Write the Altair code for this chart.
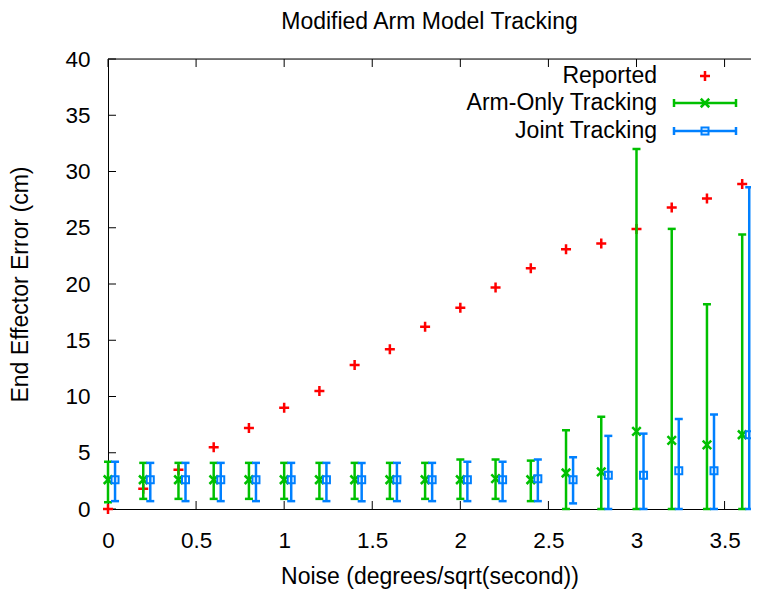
import altair as alt
import pandas as pd

# ---------------- data ----------------
noise = [0.0, 0.2, 0.4, 0.6, 0.8, 1.0, 1.2, 1.4, 1.6, 1.8, 2.0, 2.2, 2.4, 2.6, 2.8, 3.0, 3.2, 3.4, 3.6]
noise_joint = [0.04, 0.24, 0.44, 0.64, 0.84, 1.04, 1.24, 1.44, 1.64, 1.84, 2.04, 2.24, 2.44, 2.64, 2.84, 3.04, 3.24, 3.44, 3.64]

reported = [0.0, 1.8, 3.5, 5.5, 7.2, 9.0, 10.5, 12.8, 14.2, 16.2, 17.9, 19.7, 21.4, 23.1, 23.6, 24.9, 26.8, 27.6, 28.9]

arm_mean = [2.6, 2.6, 2.6, 2.6, 2.6, 2.6, 2.6, 2.6, 2.6, 2.6, 2.6, 2.7, 2.6, 3.2, 3.3, 6.9, 6.1, 5.7, 6.6]
arm_low = [0.6, 0.9, 0.9, 0.9, 0.9, 0.9, 0.9, 0.9, 0.9, 0.9, 0.9, 0.9, 0.7, 0.0, 0.0, 0.0, 0.0, 0.0, 0.0]
arm_high = [4.2, 4.1, 4.1, 4.1, 4.1, 4.1, 4.1, 4.1, 4.1, 4.1, 4.4, 4.4, 4.3, 7.0, 8.2, 32.0, 24.9, 18.2, 24.4]

joint_mean = [2.6, 2.6, 2.6, 2.6, 2.6, 2.6, 2.6, 2.6, 2.6, 2.6, 2.6, 2.6, 2.7, 2.6, 3.0, 3.0, 3.4, 3.4, 6.6]
joint_low = [0.7, 0.7, 0.7, 0.7, 0.7, 0.7, 0.7, 0.7, 0.7, 0.7, 0.7, 0.7, 0.7, 0.5, 0.0, 0.0, 0.0, 0.0, 0.0]
joint_high = [4.2, 4.1, 4.1, 4.1, 4.1, 4.1, 4.1, 4.1, 4.1, 4.1, 4.2, 4.2, 4.4, 4.6, 6.5, 6.7, 8.0, 8.4, 28.6]

x_ticks = [0, 0.5, 1, 1.5, 2, 2.5, 3, 3.5]
y_ticks = [0, 5, 10, 15, 20, 25, 30, 35, 40]

legend_labels = ["Reported", "Arm-Only Tracking", "Joint Tracking"]

title_text = "Modified Arm Model Tracking"
x_title = "Noise (degrees/sqrt(second))"
y_title = "End Effector Error (cm)"

# ---------------- style ----------------
RED = "#ff0000"
GREEN = "#00c000"
BLUE = "#0080ff"
FONT = "Liberation Sans"
TXT = 23
TICK = 22.5
W, H = 643, 450
XMAX = 3.65

PLUS = "M-1,0L1,0M0,-1L0,1"
CROSS = "M-1,-1L1,1M-1,1L1,-1"

rep_df = pd.DataFrame({"x": noise, "y": reported})
arm_df = pd.DataFrame({"x": noise, "y": arm_mean, "lo": arm_low, "hi": arm_high})
joint_df = pd.DataFrame({"x": noise_joint, "y": joint_mean, "lo": joint_low, "hi": joint_high})
xt_df = pd.DataFrame({"t": x_ticks})
yt_df = pd.DataFrame({"t": y_ticks})
one = pd.DataFrame({"k": [0]})

xscale = alt.Scale(domain=[0, XMAX], nice=False, zero=False)
yscale = alt.Scale(domain=[0, 40], nice=False, zero=False)

xaxis = alt.Axis(title=x_title, values=x_ticks, format="~g", ticks=False, grid=False,
                 domainColor="black", domainWidth=1, labelFontSize=TICK, labelFont=FONT,
                 labelColor="black", labelPadding=20, titleFontSize=TXT, titleFont=FONT,
                 titleFontWeight="normal", titleColor="black", titlePadding=14,
                 labelFlush=False)
yaxis = alt.Axis(title=y_title, values=y_ticks, ticks=False, grid=False,
                 domainColor="black", domainWidth=1, labelFontSize=TICK, labelFont=FONT,
                 labelColor="black", labelPadding=18, titleFontSize=TXT, titleFont=FONT,
                 titleFontWeight="normal", titleColor="black", titlePadding=32,
                 labelFlush=False)


def X(field):
    return alt.X(field, type="quantitative", scale=xscale, axis=xaxis)


def Y(field):
    return alt.Y(field, type="quantitative", scale=yscale, axis=yaxis)


# top border and inward ticks
top_border = alt.Chart(one).mark_rule(color="black", strokeWidth=1).encode(
    x=alt.value(0), x2=alt.value(W), y=alt.value(0))
bottom_ticks = alt.Chart(xt_df).mark_rule(color="black", strokeWidth=1).encode(
    x=X("t"), y=alt.value(H), y2=alt.value(H - 8))
top_ticks = alt.Chart(xt_df).mark_rule(color="black", strokeWidth=1).encode(
    x=X("t"), y=alt.value(0), y2=alt.value(8))
left_ticks = alt.Chart(yt_df).mark_rule(color="black", strokeWidth=1).encode(
    y=Y("t"), x=alt.value(0), x2=alt.value(8))

rep = alt.Chart(rep_df).mark_point(shape=PLUS, filled=False, color=RED, size=100,
                                   strokeWidth=2.5, opacity=1).encode(x=X("x"), y=Y("y"))


def errbars(df, color, shape, size, sw):
    bars = alt.Chart(df).mark_rule(color=color, strokeWidth=2.5).encode(
        x=X("x"), y=Y("lo"), y2="hi")
    cap_lo = alt.Chart(df).mark_tick(color=color, orient="horizontal", size=8,
                                     thickness=2.5, opacity=1).encode(x=X("x"), y=Y("lo"))
    cap_hi = alt.Chart(df).mark_tick(color=color, orient="horizontal", size=8,
                                     thickness=2.5, opacity=1).encode(x=X("x"), y=Y("hi"))
    pts = alt.Chart(df).mark_point(shape=shape, filled=False, color=color, size=size,
                                   strokeWidth=sw, opacity=1).encode(x=X("x"), y=Y("y"))
    return [bars, cap_lo, cap_hi, pts]


arm_layers = errbars(arm_df, GREEN, CROSS, 72, 2.5)
joint_layers = errbars(joint_df, BLUE, "square", 49, 2)

# legend (inside plot, top right)
LX_TEXT, LX1, LX2, LXM = 549, 566, 628, 597
rows = [17, 44, 72]
legend = []
for lab, yy in zip(legend_labels, rows):
    legend.append(alt.Chart(one).mark_text(align="right", baseline="middle", font=FONT,
                                           fontSize=TXT, color="black").encode(
        x=alt.value(LX_TEXT), y=alt.value(yy), text=alt.value(lab)))
legend.append(alt.Chart(one).mark_point(shape=PLUS, filled=False, color=RED, size=100,
                                        strokeWidth=2.5, opacity=1).encode(
    x=alt.value(LXM), y=alt.value(rows[0])))
for yy, color, shape, size, sw in [(rows[1], GREEN, CROSS, 72, 2.5), (rows[2], BLUE, "square", 49, 2)]:
    legend.append(alt.Chart(one).mark_rule(color=color, strokeWidth=2.5).encode(
        x=alt.value(LX1), x2=alt.value(LX2), y=alt.value(yy)))
    legend.append(alt.Chart(one).mark_rule(color=color, strokeWidth=2.5).encode(
        x=alt.value(LX1), y=alt.value(yy - 4), y2=alt.value(yy + 4)))
    legend.append(alt.Chart(one).mark_rule(color=color, strokeWidth=2.5).encode(
        x=alt.value(LX2), y=alt.value(yy - 4), y2=alt.value(yy + 4)))
    legend.append(alt.Chart(one).mark_point(shape=shape, filled=False, color=color, size=size,
                                            strokeWidth=sw, opacity=1).encode(
        x=alt.value(LXM), y=alt.value(yy)))

chart = alt.layer(
    top_border, bottom_ticks, top_ticks, left_ticks, rep, *arm_layers, *joint_layers, *legend
).properties(
    width=W, height=H,
    title=alt.TitleParams(title_text, font=FONT, fontSize=TXT, fontWeight="normal",
                          color="black", anchor="middle", offset=14),
    autosize=alt.AutoSizeParams(type="none"),
    padding={"left": 100, "top": 51, "right": 0, "bottom": 82},
).configure_view(stroke=None).configure(background="white")

chart.save("out.html", embed_options={"renderer": "svg", "actions": False})
